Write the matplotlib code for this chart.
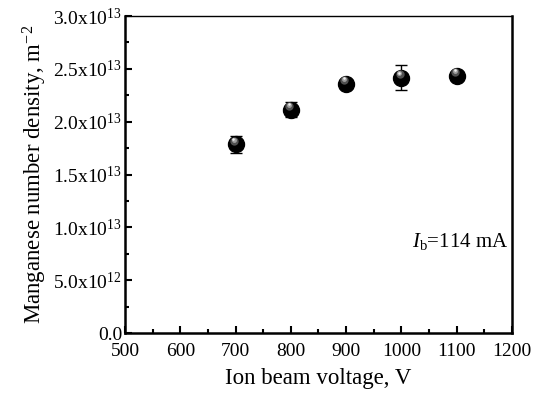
import numpy as np
import matplotlib
matplotlib.use("Agg")
import matplotlib.pyplot as plt
from matplotlib.ticker import FuncFormatter, MultipleLocator

# データ
voltage = [700, 800, 900, 1000, 1100]                       # V
density = [1.785e13, 2.115e13, 2.36e13, 2.415e13, 2.435e13]  # m^-2
density_err = [0.08e13, 0.07e13, 0.03e13, 0.12e13, 0.03e13]
x_ticks = [500, 600, 700, 800, 900, 1000, 1100, 1200]
y_ticks = [0, 0.5e13, 1.0e13, 1.5e13, 2.0e13, 2.5e13, 3.0e13]

plt.rcParams['font.family'] = ['Liberation Serif', 'DejaVu Serif']
plt.rcParams['mathtext.fontset'] = 'custom'
plt.rcParams['mathtext.rm'] = 'Liberation Serif'
plt.rcParams['mathtext.it'] = 'Liberation Serif:italic'

fig = plt.figure(figsize=(5.34, 3.96), dpi=100)
ax = fig.add_axes([125 / 534, 1 - 333 / 396, (512 - 125) / 534, (333 - 16) / 396])

# 誤差棒
ax.errorbar(voltage, density, yerr=density_err, fmt='none', ecolor='black',
            elinewidth=1.0, capsize=4, capthick=1.0, zorder=2)
# 球状マーカー (黒丸 + ハイライト)
ax.plot(voltage, density, 'o', color='black', markersize=11.5, zorder=3)
hl = np.array(density) + 0.035e13
ax.plot(np.array(voltage) - 3, hl, 'o', color='#505050', markeredgewidth=0,
        markersize=6, zorder=4)
ax.plot(np.array(voltage) - 3.5, hl + 0.01e13, 'o', color='#a0a0a0', markeredgewidth=0,
        markersize=3.5, zorder=5)
ax.plot(np.array(voltage) - 4, hl + 0.015e13, 'o', color='#f0f0f0', markeredgewidth=0,
        markersize=1.8, zorder=6)

ax.set_xlim(500, 1200)
ax.set_ylim(0, 3.0e13)
ax.set_xticks(x_ticks)
ax.set_yticks(y_ticks)
ax.xaxis.set_minor_locator(MultipleLocator(50))
ax.yaxis.set_minor_locator(MultipleLocator(0.25e13))


def sci_fmt(v, pos):
    if v == 0:
        return '0.0'
    exp = int(np.floor(np.log10(abs(v))))
    mant = v / 10 ** exp
    return r'$\mathregular{%.1fx10^{%d}}$' % (mant, exp)


ax.yaxis.set_major_formatter(FuncFormatter(sci_fmt))

ax.tick_params(which='both', direction='in', top=False, right=False, labelsize=14)
ax.tick_params(which='major', length=5, width=1.5)
ax.tick_params(which='minor', length=3, width=1.5)
ax.tick_params(axis='y', pad=2)
ax.tick_params(axis='x', pad=7)

for side in ['left', 'bottom', 'right']:
    ax.spines[side].set_linewidth(1.8)
ax.spines['top'].set_linewidth(1.0)

ax.set_xlabel('Ion beam voltage, V', fontsize=16.5, labelpad=6)
ax.set_ylabel(r'Manganese number density, m$^{\mathregular{-2}}$', fontsize=16.5, labelpad=3)

ax.text(0.865, 0.29, r'$\mathit{I}_{\mathregular{b}}$=114 mA', transform=ax.transAxes,
        fontsize=15, ha='center', va='center')

fig.savefig('out.png', dpi=100)
